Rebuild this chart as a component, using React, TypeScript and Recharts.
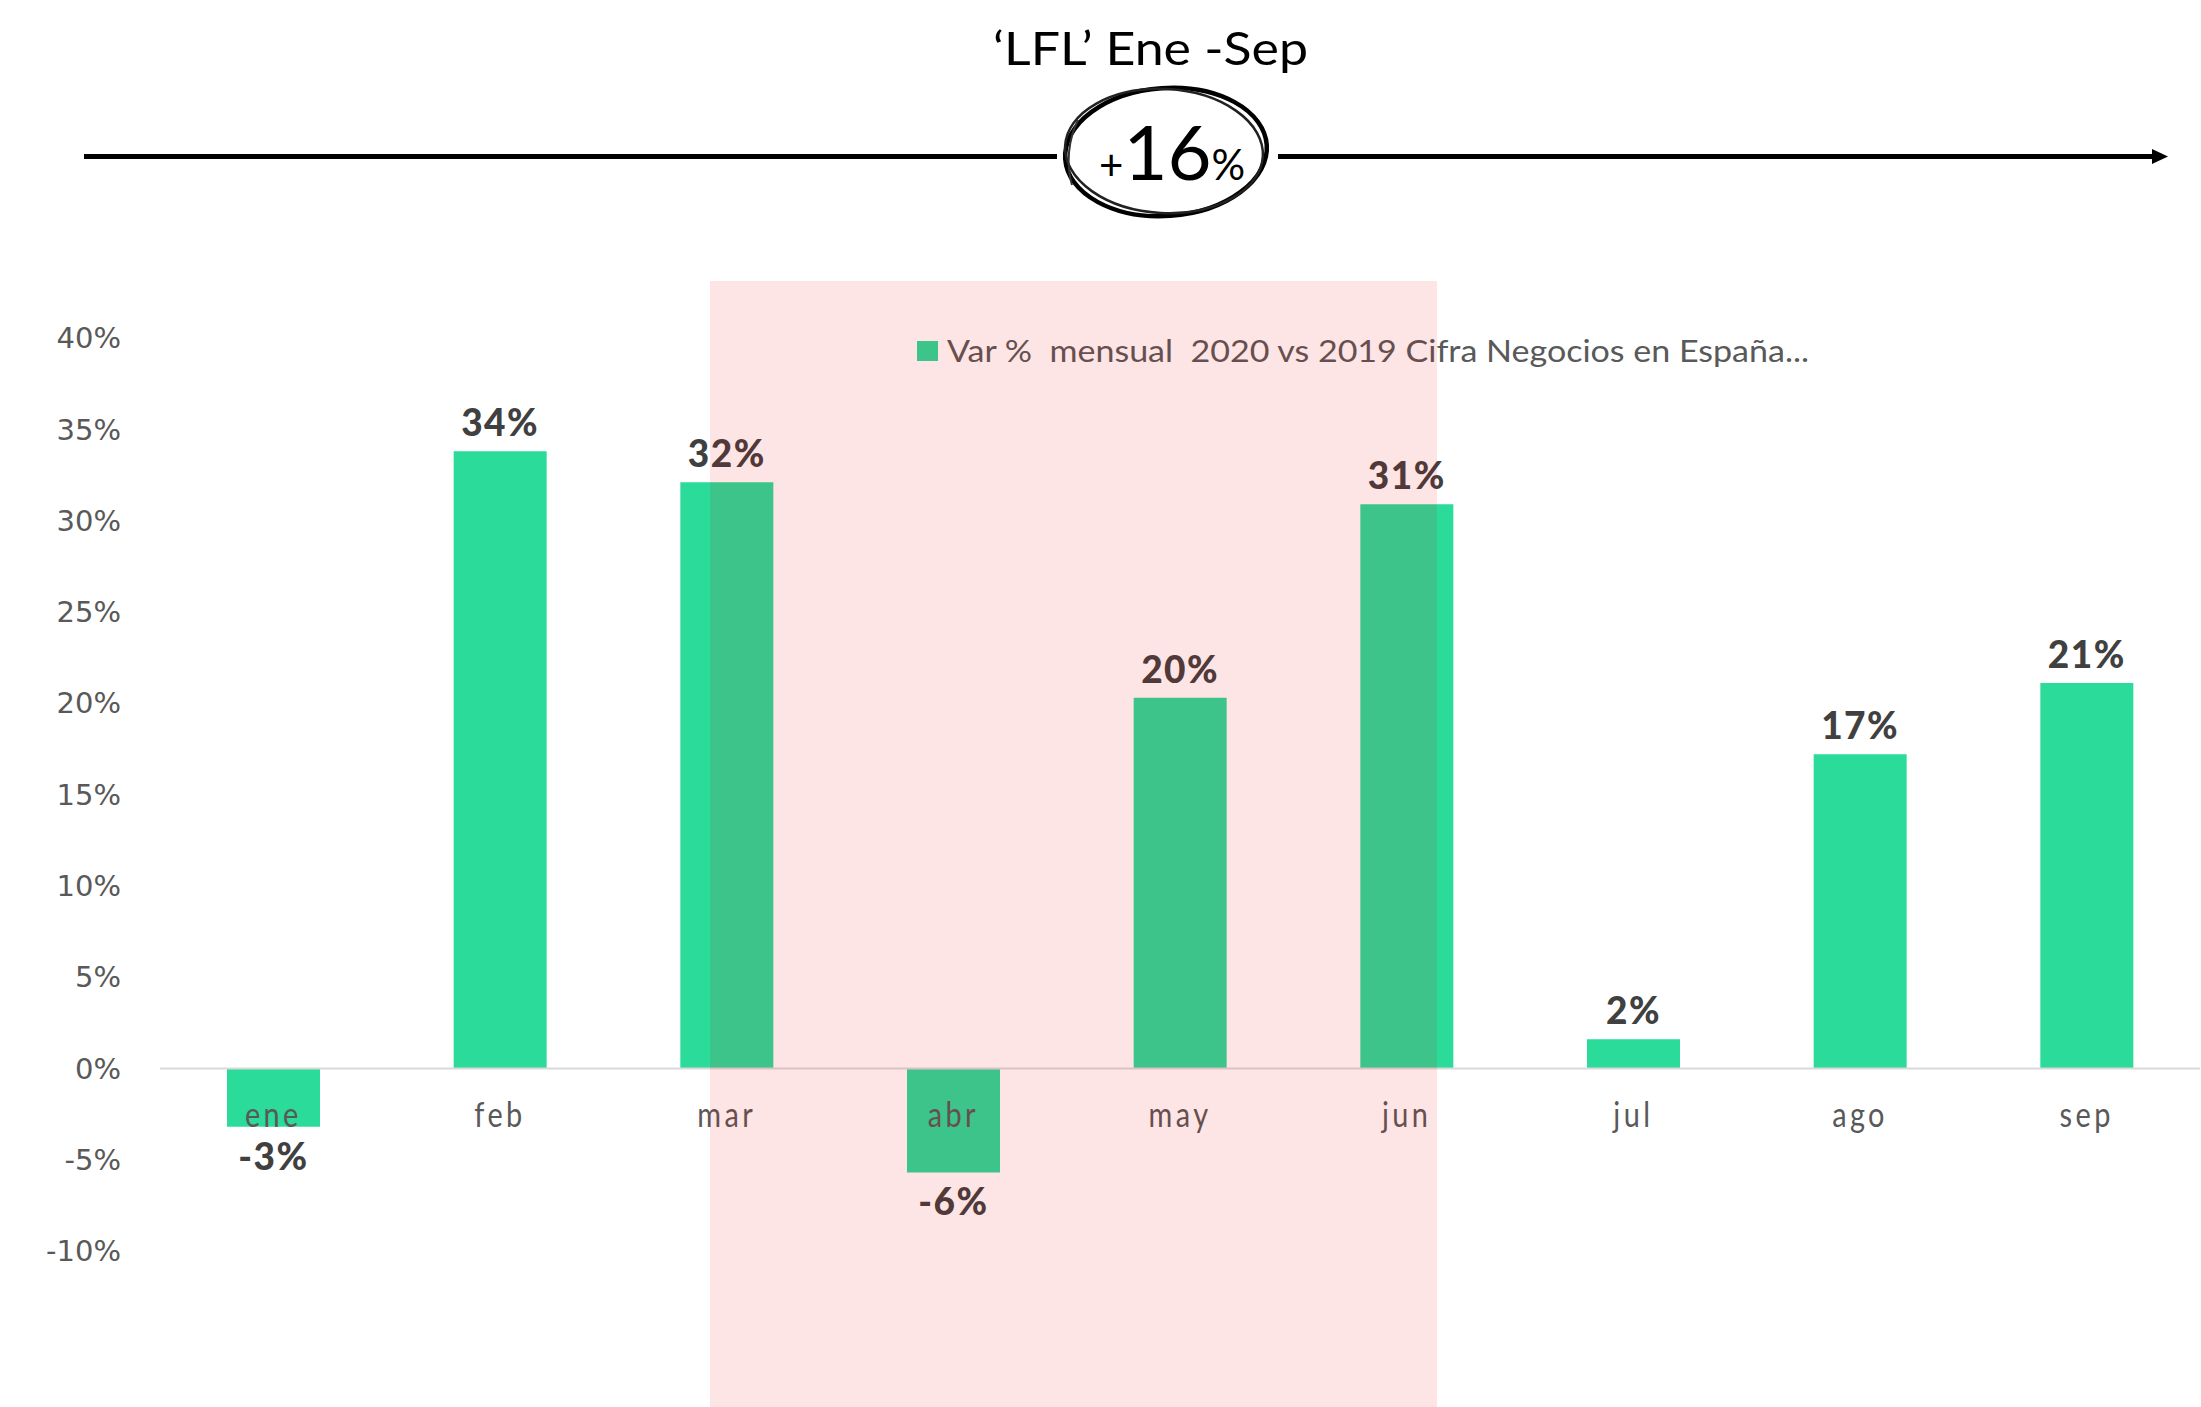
import React from 'react';
import { BarChart, Bar, XAxis, YAxis, ReferenceLine, LabelList, Legend } from 'recharts';

// monthly LFL variation, 2020 vs 2019
const months = ['ene', 'feb', 'mar', 'abr', 'may', 'jun', 'jul', 'ago', 'sep'];
const varPct = [-3.2, 33.8, 32.1, -5.7, 20.3, 30.9, 1.6, 17.2, 21.1];
const yTicks = [-10, -5, 0, 5, 10, 15, 20, 25, 30, 35, 40];
const seriesName = 'Var %  mensual  2020 vs 2019 Cifra Negocios en España...';
const title = '\u2018LFL\u2019 Ene -Sep';
const total = { sign: '+', value: '16', unit: '%' };

const data = months.map((m, i) => ({ month: m, value: varPct[i] }));

const W = 2201;
const H = 1407;
const TOP = 338;
const X_H = 156;
const PLOT_H = H - TOP - X_H;
const Y_MIN = -10;
const Y_MAX = 40;
// distance from the bottom of the plot up to the 0% line
const ZERO_OFF = PLOT_H * (0 - Y_MIN) / (Y_MAX - Y_MIN);

const GREEN = '#2ADB9A';
const GREY = '#595959';

function MonthTick(props: any) {
  const { x, y, payload } = props;
  return (
    <g transform={`translate(${x},${y - ZERO_OFF + 59}) scale(0.85,1)`}>
      <text x={0} y={0} textAnchor="middle" fill={GREY} fontSize={34} fontFamily="Lato" letterSpacing={4}>
        {payload.value}
      </text>
    </g>
  );
}

function ValueLabel(props: any) {
  const { x, y, width, height, value } = props;
  const top = Math.min(y, y + height);
  const bottom = Math.max(y, y + height);
  const ty = value >= 0 ? top - 15 : bottom + 43;
  return (
    <text x={x + width / 2} y={ty} textAnchor="middle" fill="#404040" fontSize={37} fontWeight={900} fontFamily="Lato" letterSpacing={1.5}>
      {`${Math.round(value)}%`}
    </text>
  );
}

function LegendBox(props: any) {
  const item = props.payload?.[0];
  if (!item) return null;
  return (
    <svg width={920} height={42} style={{ display: 'block' }}>
      <rect x={12} y={10} width={21} height={20} fill={item.color} />
      <text x={42} y={30.5} fill={GREY} fontSize={31} fontFamily="Lato" textLength={862} lengthAdjust="spacingAndGlyphs" style={{ whiteSpace: 'pre' }}>
        {item.value}
      </text>
    </svg>
  );
}

export default function App() {
  return (
    <div style={{ position: 'absolute', left: 0, top: 0, width: W, height: H, background: '#fff', overflow: 'hidden' }}>
      <BarChart width={W} height={H} data={data} margin={{ top: TOP, right: 1, bottom: 0, left: 0 }}>
        <YAxis
          width={160}
          domain={[Y_MIN, Y_MAX]}
          ticks={yTicks}
          interval={0}
          tickFormatter={(v: number) => `${v}%`}
          axisLine={false}
          tickLine={false}
          tickSize={0}
          tickMargin={39}
          tick={{ fill: GREY, fontSize: 29, fontFamily: 'DejaVu Sans' }}
        />
        <ReferenceLine y={0} stroke="#D9D9D9" strokeWidth={2} />
        <Bar dataKey="value" name={seriesName} fill={GREEN} barSize={93} isAnimationActive={false}>
          <LabelList dataKey="value" content={ValueLabel} />
        </Bar>
        <XAxis dataKey="month" height={X_H} interval={0} axisLine={false} tickLine={false} tickSize={0} tickMargin={0} tick={MonthTick} />
        <Legend layout="vertical" align="center" verticalAlign="middle" content={LegendBox} wrapperStyle={{ left: 905, top: 331, width: 920 }} />
      </BarChart>

      {/* highlighted lockdown months */}
      <div style={{ position: 'absolute', left: 710, top: 281, width: 727, height: H - 281, background: 'rgba(236,0,0,0.1)', pointerEvents: 'none' }} />

      {/* header: title, timeline arrow and circled total */}
      <svg width={W} height={260} style={{ position: 'absolute', left: 0, top: 0, pointerEvents: 'none' }}>
        <text x={1150.5} y={65} textAnchor="middle" fontSize={47} fontFamily="Lato" fill="#000" textLength={315} lengthAdjust="spacingAndGlyphs">
          {title}
        </text>
        <line x1={84} y1={156.5} x2={1057} y2={156.5} stroke="#000" strokeWidth={5} />
        <line x1={1278} y1={156.5} x2={2154} y2={156.5} stroke="#000" strokeWidth={5} />
        <polygon points="2152,149 2168,156.5 2152,164" fill="#000" />
        <ellipse cx={1166} cy={152} rx={101} ry={64} fill="none" stroke="#000" strokeWidth={4.5} transform="rotate(-4 1166 152)" />
        <ellipse cx={1164} cy={151} rx={99} ry={62} fill="none" stroke="#222" strokeWidth={2.5} transform="rotate(3 1164 151)" />
        <path d="M1078,120 C1068,140 1066,165 1072,185" fill="none" stroke="#333" strokeWidth={2} />
        <text x={1099} y={180} fontFamily="Lato" fill="#000">
          <tspan fontSize={42}>{total.sign}</tspan>
          <tspan fontSize={76}>{total.value}</tspan>
          <tspan fontSize={42}>{total.unit}</tspan>
        </text>
      </svg>
    </div>
  );
}
